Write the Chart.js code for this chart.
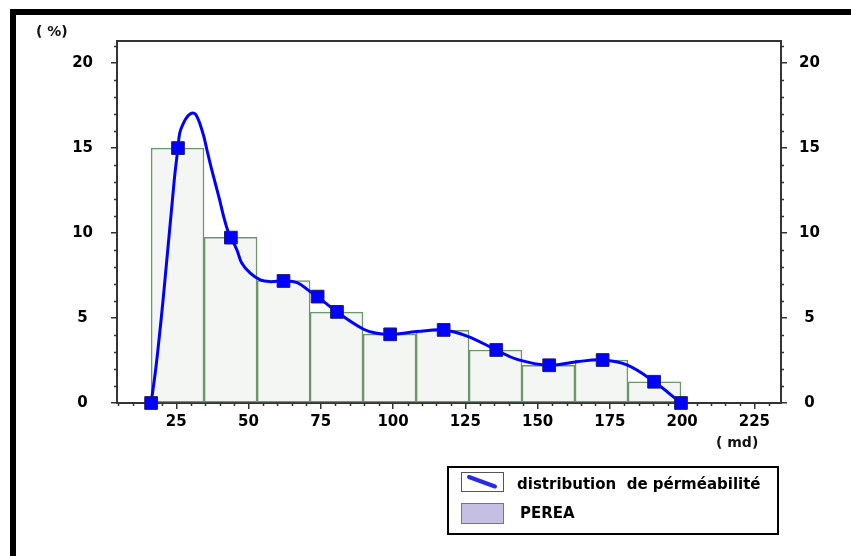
<!DOCTYPE html>
<html>
<head>
<meta charset="utf-8">
<title>distribution de pérméabilité</title>
<script src="https://cdn.jsdelivr.net/npm/chart.js@4/dist/chart.umd.min.js"></script>
<style>
  html, body { margin: 0; padding: 0; background: #fff; }
  #wrap { position: relative; width: 851px; height: 556px; overflow: hidden; background: #fff; }
  #frame { position: absolute; left: 10px; top: 9px; width: 900px; height: 600px;
           border-top: 6px solid #000; border-left: 6px solid #000; box-sizing: border-box; }
  canvas { position: absolute; left: 0; top: 0; }
  .unit { position: absolute; font: bold 14px "DejaVu Sans"; line-height: 14px; color: #111; white-space: pre; }
  #legend { position: absolute; left: 447px; top: 466px; width: 332px; height: 69px;
            border: 2px solid #000; box-sizing: border-box; background: #fff; }
  #legend .sw { position: absolute; left: 12px; width: 43px; box-sizing: border-box; }
  #legend .txt { position: absolute; font: bold 15px "DejaVu Sans"; line-height: 15px; color: #000; white-space: pre; }
</style>
</head>
<body>
<div id="wrap">
  <canvas id="chart" width="851" height="556"></canvas>
  <div id="frame"></div>
  <div class="unit" style="left:36px; top:24px;">( %)</div>
  <div class="unit" style="left:716px; top:435px;">( md)</div>
  <div id="legend">
    <div class="sw" style="top:4px; height:20px; border:1px solid #555; background:#fff;">
      <svg width="41" height="18" style="position:absolute;left:0;top:0">
        <line x1="7" y1="4" x2="33" y2="13.5" stroke="#2a2ae6" stroke-width="4" stroke-linecap="round"/>
      </svg>
    </div>
    <div class="txt" style="left:68px; top:9px;">distribution  de pérméabilité</div>
    <div class="sw" style="top:35px; height:21px; border:1px solid #777; background:#c5bfe3;"></div>
    <div class="txt" style="left:71px; top:38px;">PEREA</div>
  </div>
</div>
<script>
// Permeability classes (md) and frequency (%)
const binEdges = [16.3, 34.6, 53.0, 71.3, 89.6, 108.0, 126.3, 144.6, 162.9, 181.3, 199.6];
const binFreq  = [15.0, 9.75, 7.2, 5.35, 4.05, 4.28, 3.12, 2.22, 2.53, 1.25];

// Marked points of the distribution curve
const markK   = [16.3, 25.6, 43.9, 62.1, 73.9, 80.6, 99.0, 117.5, 135.7, 154.0, 172.5, 190.3, 199.6];
const markPct = [0, 15.0, 9.73, 7.18, 6.26, 5.36, 4.04, 4.3, 3.12, 2.22, 2.53, 1.25, 0];

// Smoothed distribution curve
const curveK   = [16.3, 17.9, 19.2, 20.4, 21.5, 22.6, 23.7, 24.6, 25.6, 26.2, 27.5, 28.7, 29.8, 30.8, 31.6,
                  32.4, 33.1, 34.5, 35.6, 37.0, 38.5, 40.0, 41.4, 43.1, 43.9, 46.0, 47.7, 50.6, 54.1, 57.5,
                  62.1, 66.8, 71.4, 73.9, 80.6, 89.8, 94.4, 99.0, 108.3, 117.5, 125.6, 135.7, 142.9, 154.0,
                  163.6, 172.5, 180.9, 190.3, 199.6];
const curvePct = [0, 2.0, 4.0, 6.0, 8.0, 10.0, 12.0, 13.6, 15.0, 15.88, 16.47, 16.82, 17.0, 17.06, 17.0,
                  16.76, 16.47, 15.7, 14.9, 13.91, 12.93, 11.95, 10.97, 9.99, 9.73, 9.0, 8.22, 7.64, 7.24, 7.14,
                  7.18, 7.08, 6.55, 6.26, 5.36, 4.34, 4.1, 4.04, 4.2, 4.3, 3.94, 3.12, 2.57, 2.22,
                  2.43, 2.53, 2.24, 1.25, 0];

// Axis ranges and tick steps
const xRange = [4.5, 234.2];
const yRange = [0, 21.3];
const xStep = 25, xMinorStep = 5;
const yStep = 5,  yMinorStep = 1;

const AXIS = '#333';

const histData  = binFreq.map((v, i) => ({ x: (binEdges[i] + binEdges[i + 1]) / 2, y: v }));
const markData  = markK.map((k, i) => ({ x: k, y: markPct[i] }));
const curveData = curveK.map((k, i) => ({ x: k, y: curvePct[i] }));

// Plot frame plus the short minor tick marks on all three axes
const frameAndMinorTicks = {
  id: 'frameAndMinorTicks',
  beforeDatasetsDraw(chart) {
    const { ctx, chartArea: a, scales } = chart;
    const { x, y, y2 } = scales;
    ctx.save();
    ctx.strokeStyle = AXIS;
    ctx.lineWidth = 1.5;
    ctx.beginPath();
    for (let v = Math.ceil(y.min); v <= y.max; v += yMinorStep) {
      if (v % yStep === 0) continue;
      const py = Math.round(y.getPixelForValue(v)) + 0.5;
      ctx.moveTo(a.left - 3, py); ctx.lineTo(a.left, py);
    }
    for (let v = Math.ceil(y2.min); v <= y2.max; v += yMinorStep) {
      if (v % yStep === 0) continue;
      const py = Math.round(y2.getPixelForValue(v)) + 0.5;
      ctx.moveTo(a.right, py); ctx.lineTo(a.right + 3, py);
    }
    for (let v = Math.ceil(x.min / xMinorStep) * xMinorStep; v <= x.max; v += xMinorStep) {
      if (v % xStep === 0) continue;
      const px = Math.round(x.getPixelForValue(v)) + 0.5;
      ctx.moveTo(px, a.bottom); ctx.lineTo(px, a.bottom + 3);
    }
    ctx.stroke();
    ctx.lineWidth = 2;
    ctx.strokeRect(a.left, a.top, a.right - a.left, a.bottom - a.top);
    ctx.restore();
  }
};

Chart.defaults.font.family = '"DejaVu Sans"';
const tickFont = { family: '"DejaVu Sans"', size: 15, weight: 'bold' };
const gridOpts = { drawOnChartArea: false, drawTicks: true, tickLength: 6, color: AXIS, lineWidth: 1.5, offset: false };

new Chart(document.getElementById('chart'), {
  type: 'bar',
  data: {
    datasets: [
      {
        type: 'line',
        label: 'points',
        data: markData,
        showLine: false,
        pointStyle: 'rect',
        pointRadius: 9,
        pointBackgroundColor: '#0000ff',
        pointBorderColor: '#1c1c70',
        pointBorderWidth: 1,
        clip: false,
        order: 0
      },
      {
        type: 'line',
        label: 'distribution  de pérméabilité',
        data: curveData,
        borderColor: '#0000ff',
        borderWidth: 3,
        pointRadius: 0,
        tension: 0.4,
        fill: false,
        clip: false,
        order: 1
      },
      {
        type: 'bar',
        label: 'PEREA',
        data: histData,
        backgroundColor: '#f4f6f3',
        borderColor: '#6e966c',
        borderWidth: 1.5,
        borderSkipped: false,
        categoryPercentage: 1,
        barPercentage: 1,
        order: 2
      }
    ]
  },
  options: {
    responsive: false,
    animation: false,
    devicePixelRatio: 1,
    events: [],
    layout: { padding: { left: 0, right: 10, top: 41, bottom: 113 } },
    plugins: { legend: { display: false }, tooltip: { enabled: false } },
    scales: {
      x: {
        type: 'linear',
        position: 'bottom',
        min: xRange[0], max: xRange[1],
        offset: false,
        grid: gridOpts,
        border: { display: false },
        ticks: { stepSize: xStep, includeBounds: false, autoSkip: false, maxRotation: 0,
                 font: tickFont, color: '#000', padding: 4 },
        afterFit(s) { s.height = 40; }
      },
      y: {
        type: 'linear',
        position: 'left',
        min: yRange[0], max: yRange[1],
        grid: gridOpts,
        border: { display: false },
        ticks: { stepSize: yStep, includeBounds: false, font: tickFont, color: '#000',
                 padding: 18, crossAlign: 'center' },
        afterFit(s) { s.width = 117; }
      },
      y2: {
        type: 'linear',
        position: 'right',
        min: yRange[0], max: yRange[1],
        grid: gridOpts,
        border: { display: false },
        ticks: { stepSize: yStep, includeBounds: false, font: tickFont, color: '#000',
                 padding: 12, crossAlign: 'center' },
        afterFit(s) { s.width = 60; }
      }
    }
  },
  plugins: [frameAndMinorTicks]
});
</script>
</body>
</html>
